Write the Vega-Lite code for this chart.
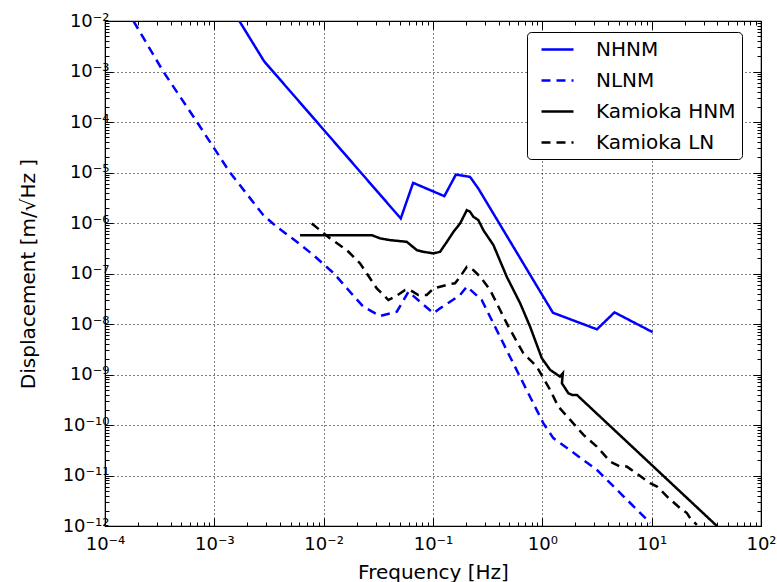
{
  "$schema": "https://vega.github.io/schema/vega-lite/v6.json",
  "width": 656,
  "height": 505,
  "autosize": {"type": "none"},
  "padding": {"left": 105, "top": 21, "right": 16, "bottom": 56},
  "background": "white",
  "config": {
    "font": "DejaVu Sans",
    "view": {"stroke": "black", "strokeWidth": 1.2}
  },
  "data": {
    "values": [
      {"s": "NHNM", "i": 1, "f": 0.001693, "d": 0.01},
      {"s": "NHNM", "i": 2, "f": 0.00285, "d": 0.0016},
      {"s": "NHNM", "i": 3, "f": 0.0507, "d": 1.23e-6},
      {"s": "NHNM", "i": 4, "f": 0.0658, "d": 6.24e-6},
      {"s": "NHNM", "i": 5, "f": 0.127, "d": 3.4e-6},
      {"s": "NHNM", "i": 6, "f": 0.162, "d": 9.1e-6},
      {"s": "NHNM", "i": 7, "f": 0.218, "d": 8.2e-6},
      {"s": "NHNM", "i": 8, "f": 0.26, "d": 4.8e-6},
      {"s": "NHNM", "i": 9, "f": 1.25, "d": 1.67e-8},
      {"s": "NHNM", "i": 10, "f": 3.16, "d": 7.85e-9},
      {"s": "NHNM", "i": 11, "f": 4.57, "d": 1.7e-8},
      {"s": "NHNM", "i": 12, "f": 10.2, "d": 6.9e-9},

      {"s": "NLNM", "i": 1, "f": 0.000182, "d": 0.01},
      {"s": "NLNM", "i": 2, "f": 0.000341, "d": 0.001},
      {"s": "NLNM", "i": 3, "f": 0.000694, "d": 0.0001},
      {"s": "NLNM", "i": 4, "f": 0.00139, "d": 1e-5},
      {"s": "NLNM", "i": 5, "f": 0.00281, "d": 1.43e-6},
      {"s": "NLNM", "i": 6, "f": 0.00372, "d": 8.4e-7},
      {"s": "NLNM", "i": 7, "f": 0.00493, "d": 5.33e-7},
      {"s": "NLNM", "i": 8, "f": 0.00567, "d": 4.25e-7},
      {"s": "NLNM", "i": 9, "f": 0.00805, "d": 2.32e-7},
      {"s": "NLNM", "i": 10, "f": 0.01244, "d": 1e-7},
      {"s": "NLNM", "i": 11, "f": 0.01746, "d": 4.3e-8},
      {"s": "NLNM", "i": 12, "f": 0.02308, "d": 2.2e-8},
      {"s": "NLNM", "i": 13, "f": 0.0328, "d": 1.44e-8},
      {"s": "NLNM", "i": 14, "f": 0.0467, "d": 1.75e-8},
      {"s": "NLNM", "i": 15, "f": 0.0596, "d": 4.35e-8},
      {"s": "NLNM", "i": 16, "f": 0.101, "d": 1.63e-8},
      {"s": "NLNM", "i": 17, "f": 0.116, "d": 2.04e-8},
      {"s": "NLNM", "i": 18, "f": 0.177, "d": 3.75e-8},
      {"s": "NLNM", "i": 19, "f": 0.204, "d": 5.5e-8},
      {"s": "NLNM", "i": 20, "f": 0.279, "d": 3e-8},
      {"s": "NLNM", "i": 21, "f": 0.486, "d": 2.67e-9},
      {"s": "NLNM", "i": 22, "f": 1.02, "d": 1.09e-10},
      {"s": "NLNM", "i": 23, "f": 1.26, "d": 5.5e-11},
      {"s": "NLNM", "i": 24, "f": 3.15, "d": 1.3e-11},
      {"s": "NLNM", "i": 25, "f": 9.7, "d": 1.15e-12},

      {"s": "Kamioka HNM", "i": 1, "f": 0.00608, "d": 5.75e-7},
      {"s": "Kamioka HNM", "i": 2, "f": 0.0275, "d": 5.75e-7},
      {"s": "Kamioka HNM", "i": 3, "f": 0.0328, "d": 4.96e-7},
      {"s": "Kamioka HNM", "i": 4, "f": 0.0405, "d": 4.58e-7},
      {"s": "Kamioka HNM", "i": 5, "f": 0.0575, "d": 4.24e-7},
      {"s": "Kamioka HNM", "i": 6, "f": 0.0711, "d": 2.91e-7},
      {"s": "Kamioka HNM", "i": 7, "f": 0.0817, "d": 2.69e-7},
      {"s": "Kamioka HNM", "i": 8, "f": 0.101, "d": 2.5e-7},
      {"s": "Kamioka HNM", "i": 9, "f": 0.116, "d": 2.69e-7},
      {"s": "Kamioka HNM", "i": 10, "f": 0.134, "d": 4.24e-7},
      {"s": "Kamioka HNM", "i": 11, "f": 0.154, "d": 6.7e-7},
      {"s": "Kamioka HNM", "i": 12, "f": 0.177, "d": 9.8e-7},
      {"s": "Kamioka HNM", "i": 13, "f": 0.204, "d": 1.8e-6},
      {"s": "Kamioka HNM", "i": 14, "f": 0.218, "d": 1.67e-6},
      {"s": "Kamioka HNM", "i": 15, "f": 0.234, "d": 1.33e-6},
      {"s": "Kamioka HNM", "i": 16, "f": 0.26, "d": 1.14e-6},
      {"s": "Kamioka HNM", "i": 17, "f": 0.289, "d": 7.2e-7},
      {"s": "Kamioka HNM", "i": 18, "f": 0.357, "d": 3.65e-7},
      {"s": "Kamioka HNM", "i": 19, "f": 0.473, "d": 8.6e-8},
      {"s": "Kamioka HNM", "i": 20, "f": 0.627, "d": 2.57e-8},
      {"s": "Kamioka HNM", "i": 21, "f": 0.773, "d": 8.85e-9},
      {"s": "Kamioka HNM", "i": 22, "f": 0.989, "d": 2.1e-9},
      {"s": "Kamioka HNM", "i": 23, "f": 1.18, "d": 1.23e-9},
      {"s": "Kamioka HNM", "i": 24, "f": 1.45, "d": 9.1e-10},
      {"s": "Kamioka HNM", "i": 25, "f": 1.54, "d": 1.06e-9},
      {"s": "Kamioka HNM", "i": 26, "f": 1.51, "d": 6.7e-10},
      {"s": "Kamioka HNM", "i": 27, "f": 1.73, "d": 4.26e-10},
      {"s": "Kamioka HNM", "i": 28, "f": 1.87, "d": 3.94e-10},
      {"s": "Kamioka HNM", "i": 29, "f": 2.07, "d": 3.94e-10},
      {"s": "Kamioka HNM", "i": 30, "f": 39.5, "d": 1e-12},

      {"s": "Kamioka LN", "i": 1, "f": 0.00778, "d": 9.8e-7},
      {"s": "Kamioka LN", "i": 2, "f": 0.01145, "d": 4.96e-7},
      {"s": "Kamioka LN", "i": 3, "f": 0.01627, "d": 2.91e-7},
      {"s": "Kamioka LN", "i": 4, "f": 0.0215, "d": 1.59e-7},
      {"s": "Kamioka LN", "i": 5, "f": 0.0306, "d": 5.08e-8},
      {"s": "Kamioka LN", "i": 6, "f": 0.0391, "d": 2.98e-8},
      {"s": "Kamioka LN", "i": 7, "f": 0.045, "d": 3.47e-8},
      {"s": "Kamioka LN", "i": 8, "f": 0.0556, "d": 4.71e-8},
      {"s": "Kamioka LN", "i": 9, "f": 0.0617, "d": 4.71e-8},
      {"s": "Kamioka LN", "i": 10, "f": 0.0735, "d": 3.75e-8},
      {"s": "Kamioka LN", "i": 11, "f": 0.0877, "d": 3.75e-8},
      {"s": "Kamioka LN", "i": 12, "f": 0.101, "d": 5.08e-8},
      {"s": "Kamioka LN", "i": 13, "f": 0.116, "d": 5.47e-8},
      {"s": "Kamioka LN", "i": 14, "f": 0.143, "d": 6.18e-8},
      {"s": "Kamioka LN", "i": 15, "f": 0.159, "d": 6.38e-8},
      {"s": "Kamioka LN", "i": 16, "f": 0.177, "d": 8.63e-8},
      {"s": "Kamioka LN", "i": 17, "f": 0.204, "d": 1.36e-7},
      {"s": "Kamioka LN", "i": 18, "f": 0.234, "d": 1.17e-7},
      {"s": "Kamioka LN", "i": 19, "f": 0.27, "d": 8.63e-8},
      {"s": "Kamioka LN", "i": 20, "f": 0.333, "d": 4.71e-8},
      {"s": "Kamioka LN", "i": 21, "f": 0.411, "d": 1.89e-8},
      {"s": "Kamioka LN", "i": 22, "f": 0.49, "d": 8.85e-9},
      {"s": "Kamioka LN", "i": 23, "f": 0.671, "d": 2.63e-9},
      {"s": "Kamioka LN", "i": 24, "f": 0.89, "d": 1.43e-9},
      {"s": "Kamioka LN", "i": 25, "f": 1.18, "d": 4.94e-10},
      {"s": "Kamioka LN", "i": 26, "f": 1.4, "d": 2.31e-10},
      {"s": "Kamioka LN", "i": 27, "f": 1.8, "d": 1.26e-10},
      {"s": "Kamioka LN", "i": 28, "f": 2.38, "d": 6.37e-11},
      {"s": "Kamioka LN", "i": 29, "f": 3.15, "d": 3.74e-11},
      {"s": "Kamioka LN", "i": 30, "f": 4.17, "d": 1.89e-11},
      {"s": "Kamioka LN", "i": 31, "f": 5.15, "d": 1.5e-11},
      {"s": "Kamioka LN", "i": 32, "f": 5.93, "d": 1.5e-11},
      {"s": "Kamioka LN", "i": 33, "f": 7.57, "d": 1.03e-11},
      {"s": "Kamioka LN", "i": 34, "f": 9.69, "d": 7.06e-12},
      {"s": "Kamioka LN", "i": 35, "f": 11.2, "d": 6.05e-12},
      {"s": "Kamioka LN", "i": 36, "f": 14.3, "d": 3.57e-12},
      {"s": "Kamioka LN", "i": 37, "f": 18.2, "d": 2.26e-12},
      {"s": "Kamioka LN", "i": 38, "f": 21, "d": 1.8e-12},
      {"s": "Kamioka LN", "i": 39, "f": 22.5, "d": 1.43e-12},
      {"s": "Kamioka LN", "i": 40, "f": 25.9, "d": 1.05e-12}
    ]
  },
  "layer": [
    {
      "mark": {"type": "line", "strokeWidth": 2.5, "clip": true},
      "encoding": {
        "x": {
          "field": "f", "type": "quantitative",
          "scale": {"type": "log", "domain": [0.0001, 100]},
          "axis": {
            "orient": "bottom",
            "values": [0.0001,0.0002,0.0003,0.0004,0.0005,0.0006,0.0007,0.0008,0.0009,0.001,0.002,0.003,0.004,0.005,0.006,0.007,0.008,0.009,0.01,0.02,0.03,0.04,0.05,0.06,0.07,0.08,0.09,0.1,0.2,0.3,0.4,0.5,0.6,0.7,0.8,0.9,1,2,3,4,5,6,7,8,9,10,20,30,40,50,60,70,80,90,100],
            "labelExpr": "datum.value == 0.0001 ? '10⁻⁴' : datum.value == 0.001 ? '10⁻³' : datum.value == 0.01 ? '10⁻²' : datum.value == 0.1 ? '10⁻¹' : datum.value == 1 ? '10⁰' : datum.value == 10 ? '10¹' : datum.value == 100 ? '10²' : ''",
            "labelFontSize": 18, "labelColor": "black", "labelPadding": 17,
            "labelOverlap": false, "labelFlush": false,
            "tickColor": "black", "tickWidth": 1,
            "tickSize": {"condition": {"test": "abs(log(datum.value)/LN10 - round(log(datum.value)/LN10)) < 0.001", "value": -8}, "value": -4},
            "grid": true, "gridColor": "black", "gridDash": [1, 3], "gridWidth": 1,
            "gridOpacity": {"condition": {"test": "abs(log(datum.value)/LN10 - round(log(datum.value)/LN10)) < 0.001", "value": 1}, "value": 0},
            "domainColor": "black",
            "title": "Frequency [Hz]", "titleFontSize": 20, "titleFontWeight": "normal", "titleColor": "black", "titlePadding": 5
          }
        },
        "y": {
          "field": "d", "type": "quantitative",
          "scale": {"type": "log", "domain": [1e-12, 0.01]},
          "axis": {
            "orient": "left",
            "values": [1e-12,2e-12,3e-12,4e-12,5e-12,6e-12,7e-12,8e-12,9e-12,1e-11,2e-11,3e-11,4e-11,5e-11,6e-11,7e-11,8e-11,9e-11,1e-10,2e-10,3e-10,4e-10,5e-10,6e-10,7e-10,8e-10,9e-10,1e-9,2e-9,3e-9,4e-9,5e-9,6e-9,7e-9,8e-9,9e-9,1e-8,2e-8,3e-8,4e-8,5e-8,6e-8,7e-8,8e-8,9e-8,1e-7,2e-7,3e-7,4e-7,5e-7,6e-7,7e-7,8e-7,9e-7,1e-6,2e-6,3e-6,4e-6,5e-6,6e-6,7e-6,8e-6,9e-6,1e-5,2e-5,3e-5,4e-5,5e-5,6e-5,7e-5,8e-5,9e-5,0.0001,0.0002,0.0003,0.0004,0.0005,0.0006,0.0007,0.0008,0.0009,0.001,0.002,0.003,0.004,0.005,0.006,0.007,0.008,0.009,0.01],
            "labelExpr": "datum.value == 1e-12 ? '10⁻¹²' : datum.value == 1e-11 ? '10⁻¹¹' : datum.value == 1e-10 ? '10⁻¹⁰' : datum.value == 1e-9 ? '10⁻⁹' : datum.value == 1e-8 ? '10⁻⁸' : datum.value == 1e-7 ? '10⁻⁷' : datum.value == 1e-6 ? '10⁻⁶' : datum.value == 1e-5 ? '10⁻⁵' : datum.value == 0.0001 ? '10⁻⁴' : datum.value == 0.001 ? '10⁻³' : datum.value == 0.01 ? '10⁻²' : ''",
            "labelFontSize": 18, "labelColor": "black", "labelPadding": 4,
            "labelOverlap": false, "labelFlush": false,
            "tickColor": "black", "tickWidth": 1,
            "tickSize": {"condition": {"test": "abs(log(datum.value)/LN10 - round(log(datum.value)/LN10)) < 0.001", "value": -8}, "value": -4},
            "grid": true, "gridColor": "black", "gridDash": [1, 3], "gridWidth": 1,
            "gridOpacity": {"condition": {"test": "abs(log(datum.value)/LN10 - round(log(datum.value)/LN10)) < 0.001", "value": 1}, "value": 0},
            "domainColor": "black",
            "title": "Displacement [m/√Hz ]", "titleFontSize": 20, "titleFontWeight": "normal", "titleColor": "black", "titlePadding": 24
          }
        },
        "color": {
          "field": "s", "type": "nominal",
          "scale": {"domain": ["NHNM", "NLNM", "Kamioka HNM", "Kamioka LN"], "range": ["#0000ff", "#0000ff", "#000000", "#000000"]},
          "legend": {"title": null, "orient": "none", "legendX": 422, "legendY": 11, "symbolType": "M-1.6,0L1.6,0", "symbolSize": 400, "symbolStrokeWidth": 2.5, "labelFontSize": 20, "labelColor": "black", "padding": 6, "rowPadding": 9, "symbolOffset": 13, "labelOffset": 27, "strokeColor": "black", "fillColor": "white", "cornerRadius": 4}
        },
        "strokeDash": {
          "field": "s", "type": "nominal",
          "scale": {"domain": ["NHNM", "NLNM", "Kamioka HNM", "Kamioka LN"], "range": [[1, 0], [9, 6], [1, 0], [9, 6]]},
          "legend": {"title": null, "orient": "none", "legendX": 422, "legendY": 11, "symbolType": "M-1.6,0L1.6,0", "symbolSize": 400, "symbolStrokeWidth": 2.5, "labelFontSize": 20, "labelColor": "black", "padding": 6, "rowPadding": 9, "symbolOffset": 13, "labelOffset": 27, "strokeColor": "black", "fillColor": "white", "cornerRadius": 4}
        },
        "order": {"field": "i"}
      }
    },
    {
      "mark": {"type": "line", "opacity": 0},
      "encoding": {
        "x": {
          "field": "f", "type": "quantitative",
          "scale": {"type": "log", "domain": [0.0001, 100]},
          "axis": {
            "orient": "top",
            "values": [0.0001,0.0002,0.0003,0.0004,0.0005,0.0006,0.0007,0.0008,0.0009,0.001,0.002,0.003,0.004,0.005,0.006,0.007,0.008,0.009,0.01,0.02,0.03,0.04,0.05,0.06,0.07,0.08,0.09,0.1,0.2,0.3,0.4,0.5,0.6,0.7,0.8,0.9,1,2,3,4,5,6,7,8,9,10,20,30,40,50,60,70,80,90,100],
            "labels": false, "grid": false, "title": null,
            "tickColor": "black", "tickWidth": 1,
            "tickSize": {"condition": {"test": "abs(log(datum.value)/LN10 - round(log(datum.value)/LN10)) < 0.001", "value": -8}, "value": -4},
            "domainColor": "black"
          }
        },
        "y": {
          "field": "d", "type": "quantitative",
          "scale": {"type": "log", "domain": [1e-12, 0.01]},
          "axis": {
            "orient": "right",
            "values": [1e-12,2e-12,3e-12,4e-12,5e-12,6e-12,7e-12,8e-12,9e-12,1e-11,2e-11,3e-11,4e-11,5e-11,6e-11,7e-11,8e-11,9e-11,1e-10,2e-10,3e-10,4e-10,5e-10,6e-10,7e-10,8e-10,9e-10,1e-9,2e-9,3e-9,4e-9,5e-9,6e-9,7e-9,8e-9,9e-9,1e-8,2e-8,3e-8,4e-8,5e-8,6e-8,7e-8,8e-8,9e-8,1e-7,2e-7,3e-7,4e-7,5e-7,6e-7,7e-7,8e-7,9e-7,1e-6,2e-6,3e-6,4e-6,5e-6,6e-6,7e-6,8e-6,9e-6,1e-5,2e-5,3e-5,4e-5,5e-5,6e-5,7e-5,8e-5,9e-5,0.0001,0.0002,0.0003,0.0004,0.0005,0.0006,0.0007,0.0008,0.0009,0.001,0.002,0.003,0.004,0.005,0.006,0.007,0.008,0.009,0.01],
            "labels": false, "grid": false, "title": null,
            "tickColor": "black", "tickWidth": 1,
            "tickSize": {"condition": {"test": "abs(log(datum.value)/LN10 - round(log(datum.value)/LN10)) < 0.001", "value": -8}, "value": -4},
            "domainColor": "black"
          }
        },
        "detail": {"field": "s"}
      }
    }
  ],
  "resolve": {"axis": {"x": "independent", "y": "independent"}}
}
